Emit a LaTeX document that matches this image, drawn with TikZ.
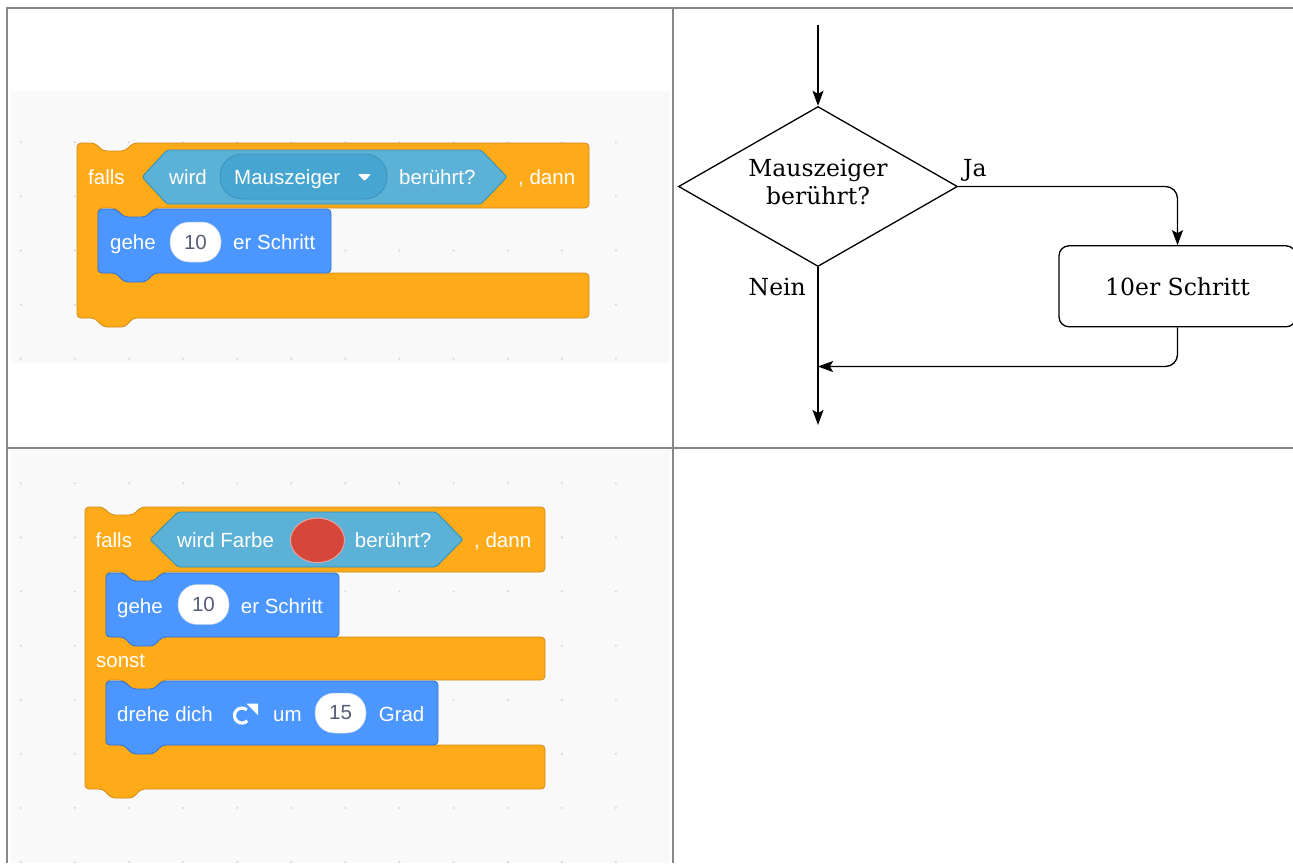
\documentclass[tikz,border=0pt]{standalone}
\usepackage{fontspec}
\newfontfamily\scrfont{Liberation Sans}
\newfontfamily\fcfont{DejaVu Serif}
\usetikzlibrary{shapes.geometric,arrows.meta}
\definecolor{ctrlfill}{HTML}{FFAB19}
\definecolor{ctrlline}{HTML}{CF8B17}
\definecolor{motfill}{HTML}{4C97FF}
\definecolor{motline}{HTML}{3373CC}
\definecolor{senfill}{HTML}{5CB1D6}
\definecolor{senline}{HTML}{2E8EB8}
\definecolor{pillfill}{HTML}{47A6D1}
\definecolor{pillline}{HTML}{3991BE}
\definecolor{numtext}{HTML}{575E75}
\definecolor{redfill}{HTML}{D6463B}
\definecolor{redline}{HTML}{E9A39C}
\definecolor{panelbg}{HTML}{F9F9F9}
\definecolor{dotc}{HTML}{D4D4D4}
\definecolor{gridc}{HTML}{888888}
\begin{document}
\begin{tikzpicture}[x=1pt,y=-1pt,
  ctrlblk/.style={fill=ctrlfill,draw=ctrlline,line width=0.8pt,rounded corners=4pt},
  motblk/.style={fill=motfill,draw=motline,line width=0.8pt,rounded corners=4pt},
  senblk/.style={fill=senfill,draw=senline,line width=0.8pt,rounded corners=2pt},
  stxt/.style={font=\scrfont\fontsize{20.5}{24}\selectfont,text=white,inner sep=0pt,anchor=base west},
  numoval/.style={fill=white,draw=motline!40,line width=0.5pt,rounded corners=19pt,minimum width=51pt,minimum height=40pt,inner sep=0pt,font=\scrfont\fontsize{20.5}{24}\selectfont,text=numtext},
  ftxt/.style={font=\fcfont\fontsize{23.5}{28}\selectfont,inner sep=0pt},
  arr/.style={line width=1.3pt,-{Stealth[length=15pt,width=11pt,inset=3pt]}},
  gridline/.style={draw=gridc,line width=2pt}]
\useasboundingbox (0,0) rectangle (1293,863);
\clip (0,0) rectangle (1293,863);
\fill[white] (0,0) rectangle (1293,863);
% panel backgrounds
\fill[panelbg] (11,91) rectangle (670,363);
\fill[panelbg] (11,450) rectangle (670,863);
% dot grid
\foreach \i in {0,...,11}{
  \foreach \j in {0,...,4}{\fill[dotc] (20.8+54.1*\i,142.3+54.1*\j) circle[radius=1.1pt];}
  \foreach \j in {0,...,7}{\fill[dotc] (20.8+54.1*\i,483.3+54.1*\j) circle[radius=1.1pt];}
}
% ---------- block A ----------
\filldraw[ctrlblk] (77,143) -- (95,143) -- (103,151) -- (125,151) -- (133,143) -- (589,143)
  -- (589,208) -- (154,208) -- (146,217.5) -- (124,217.5) -- (116,208) -- (98,208)
  -- (98,273) -- (589,273) -- (589,318) -- (133,318) -- (125,327) -- (103,327) -- (95,318)
  -- (77,318) -- cycle;
\filldraw[motblk] (98,209) -- (116,209) -- (124,217) -- (146,217) -- (154,209) -- (331,209)
  -- (331,273) -- (154,273) -- (146,282) -- (124,282) -- (116,273) -- (98,273) -- cycle;
\filldraw[senblk] (142,177) -- (167,150) -- (481,150) -- (507,177) -- (481,204) -- (167,204) -- cycle;
\filldraw[fill=pillfill,draw=pillline,line width=0.8pt,rounded corners=22pt] (220,154) rectangle (387,199);
\fill[white,rounded corners=1pt] (358,174) -- (371,174) -- (364.5,181) -- cycle;
\node[stxt] (a1) at (88,184.5) {falls};
\node[stxt] (a2) at (169,184.5) {wird};
\node[stxt] (a3) at (234,184.5) {Mauszeiger};
\node[stxt] (a4) at (399,184.5) {berührt?};
\node[stxt] (a5) at (518,184.5) {, dann};
\node[stxt] (a6) at (110,249) {gehe};
\node[numoval] (a7) at (195.5,242) {10};
\node[stxt] (a8) at (233,249) {er Schritt};
% ---------- block B ----------
\filldraw[ctrlblk] (85,507) -- (103,507) -- (111,515) -- (133,515) -- (141,507) -- (545,507)
  -- (545,572) -- (162,572) -- (154,581.5) -- (132,581.5) -- (124,572) -- (106,572)
  -- (106,637) -- (545,637) -- (545,680) -- (162,680) -- (154,689.5) -- (132,689.5) -- (124,680) -- (106,680)
  -- (106,745) -- (545,745) -- (545,789) -- (141,789) -- (133,798) -- (111,798) -- (103,789)
  -- (85,789) -- cycle;
\filldraw[motblk] (106,573) -- (124,573) -- (132,581) -- (154,581) -- (162,573) -- (339,573)
  -- (339,637) -- (162,637) -- (154,646) -- (132,646) -- (124,637) -- (106,637) -- cycle;
\filldraw[motblk] (106,681) -- (124,681) -- (132,689) -- (154,689) -- (162,681) -- (438,681)
  -- (438,745) -- (162,745) -- (154,754) -- (132,754) -- (124,745) -- (106,745) -- cycle;
\filldraw[senblk] (150,539.5) -- (178,512) -- (436,512) -- (463,539.5) -- (436,567) -- (178,567) -- cycle;
\filldraw[fill=redfill,draw=redline,line width=1pt] (317.5,540.3) ellipse[x radius=27pt,y radius=22.3pt];
\node[stxt] (b1) at (95.4,547.5) {falls};
\node[stxt] (b2) at (177,547.5) {wird Farbe};
\node[stxt] (b3) at (354.7,547.5) {berührt?};
\node[stxt] (b4) at (474,547.5) {, dann};
\node[stxt] (b5) at (117,613) {gehe};
\node[numoval] (b6) at (203.5,604.5) {10};
\node[stxt] (b7) at (240.7,613) {er Schritt};
\node[stxt] (b8) at (96,667.5) {sonst};
\node[stxt] (b9) at (117,721.5) {drehe dich};
% rotate icon (C open to the right, head at top right)
\draw[white,line width=3.2pt] (246.8,709.8) arc[start angle=50,end angle=315,radius=7.5pt];
\fill[white] (246.5,703.5) -- (258,703.5) -- (258,715) -- cycle;
\node[stxt] (b10) at (273,721.5) {um};
\node[numoval] (b11) at (340.5,713) {15};
\node[stxt] (b12) at (378.6,721.5) {Grad};
% ---------- flowchart ----------
\coordinate (fstart) at (818,25);
\coordinate (fmerge) at (818,366.5);
\coordinate (fend) at (818,425);
\node[draw,line width=1.3pt,diamond,minimum width=279pt,minimum height=160pt,inner sep=0pt] (dec) at (818,186.5) {};
\node[ftxt,anchor=base] (dt1) at (818,176.7) {Mauszeiger};
\node[ftxt,anchor=base] (dt2) at (818,204) {berührt?};
\node[ftxt,draw,line width=1.3pt,rounded corners=10pt,minimum width=237pt,minimum height=81pt] (box) at (1177.5,286.3) {10er Schritt};
\node[ftxt,anchor=base west] (ja) at (963,176.5) {Ja};
\node[ftxt,anchor=base east] (nein) at (806,295) {Nein};
\draw[arr] (fstart) -- (dec.north);
\draw[arr,rounded corners=12pt] (dec.east) -| (box.north);
\draw[arr,rounded corners=12pt] (box.south) |- (fmerge);
\draw[arr] (dec.south) -- (fend);
% ---------- table grid ----------
\draw[gridline] (7,8) -- (1293,8);
\draw[gridline] (7,7) -- (7,863);
\draw[gridline] (673,7) -- (673,863);
\draw[gridline] (7,447.5) -- (1293,447.5);
\end{tikzpicture}
\end{document}
